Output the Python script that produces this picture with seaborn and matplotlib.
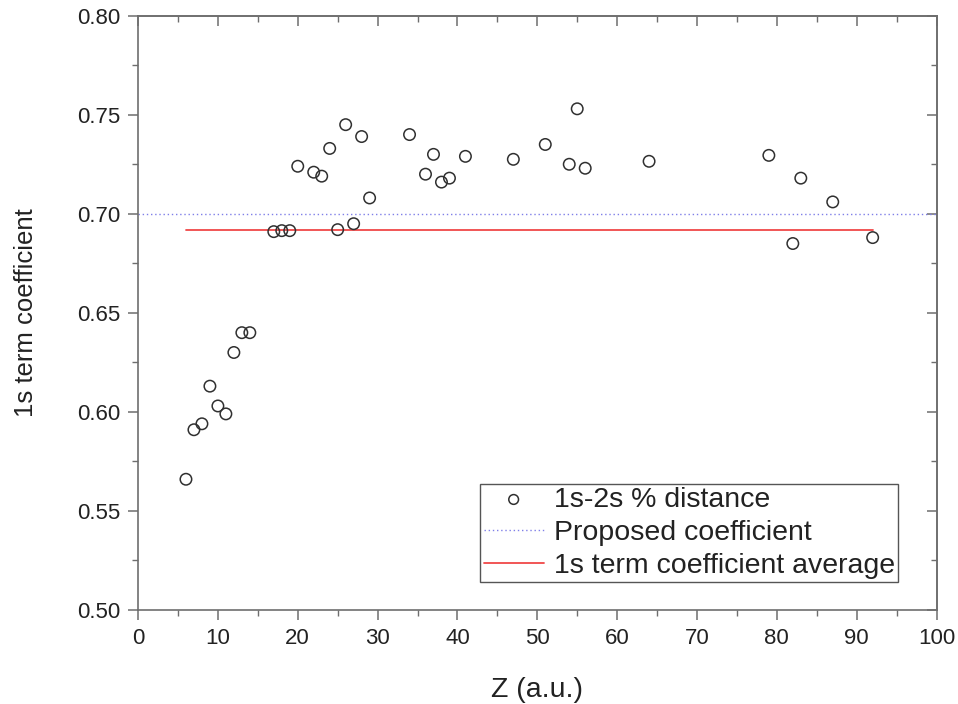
import matplotlib
matplotlib.use("Agg")
import matplotlib.pyplot as plt
from matplotlib.ticker import MultipleLocator
import seaborn as sns
import pandas as pd

# ---- data ----
z_values = [6, 7, 8, 9, 10, 11, 12, 13, 14, 17, 18, 19, 20, 22, 23, 24, 25, 26,
            27, 28, 29, 34, 36, 37, 38, 39, 41, 47, 51, 54, 55, 56, 64, 79, 82,
            83, 87, 92]
coef_values = [0.566, 0.591, 0.594, 0.613, 0.603, 0.599, 0.630, 0.640, 0.640,
               0.691, 0.6915, 0.6915, 0.724, 0.721, 0.719, 0.733, 0.692, 0.745,
               0.695, 0.739, 0.708, 0.740, 0.720, 0.730, 0.716, 0.718, 0.729,
               0.7275, 0.735, 0.725, 0.753, 0.723, 0.7265, 0.7295, 0.685,
               0.718, 0.706, 0.688]
proposed_x = [0, 100]
proposed_y = [0.70, 0.70]
average_x = [6, 92]
average_y = [0.692, 0.692]

x_ticks = [0, 10, 20, 30, 40, 50, 60, 70, 80, 90, 100]
y_ticks = [0.50, 0.55, 0.60, 0.65, 0.70, 0.75, 0.80]
x_label = "Z (a.u.)"
y_label = "1s term coefficient"
legend_labels = ["1s-2s % distance", "Proposed coefficient",
                 "1s term coefficient average"]

sns.set_theme(style="white")
plt.rcParams["font.family"] = ["Liberation Sans", "DejaVu Sans"]

fig = plt.figure(figsize=(9.58, 7.04), dpi=100)
ax = fig.add_axes([0.1441, 0.1335, 0.9776 - 0.1441, 0.9777 - 0.1335])

pts = pd.DataFrame({"Z": z_values, "c": coef_values})
prop = pd.DataFrame({"Z": proposed_x, "c": proposed_y})
avg = pd.DataFrame({"Z": average_x, "c": average_y})

sns.lineplot(data=prop, x="Z", y="c", ax=ax, color="#7f7fe8", linestyle=(0, (1, 2)),
             linewidth=1.0, label=legend_labels[1])
sns.lineplot(data=avg, x="Z", y="c", ax=ax, color="#f04848", linewidth=1.3,
             label=legend_labels[2])
sns.scatterplot(data=pts, x="Z", y="c", ax=ax, marker="o", s=68,
                facecolor="none", edgecolor="#303030", linewidth=1.1,
                label=legend_labels[0], zorder=5)

ax.set_xlim(0, 100)
ax.set_ylim(0.50, 0.80)
ax.set_xticks(x_ticks)
ax.set_yticks(y_ticks)
ax.set_xticklabels([str(t) for t in x_ticks])
ax.set_yticklabels([f"{t:.2f}" for t in y_ticks])
ax.xaxis.set_minor_locator(MultipleLocator(5))
ax.yaxis.set_minor_locator(MultipleLocator(0.025))

spine_col = "#6e6e6e"
for s in ax.spines.values():
    s.set_visible(True)
    s.set_color(spine_col)
    s.set_linewidth(1.2)

ax.tick_params(which="major", direction="out", length=7, width=1.1,
               color=spine_col, labelsize=16, labelcolor="#222222", pad=6)
ax.tick_params(which="minor", direction="out", length=4, width=1.0,
               color=spine_col)
ax.tick_params(top=False, right=False, which="both")
ax.tick_params(bottom=True, left=True, which="both")

# mirrored inward ticks on top and right
secx = ax.secondary_xaxis("top")
secx.set_xticks(x_ticks)
secx.xaxis.set_minor_locator(MultipleLocator(5))
secx.tick_params(which="major", direction="in", length=7, width=1.1,
                 color=spine_col, labeltop=False)
secx.tick_params(which="minor", direction="in", length=4, width=1.0,
                 color=spine_col)
secx.spines["top"].set_color(spine_col)
secx.spines["top"].set_linewidth(1.2)
secy = ax.secondary_yaxis("right")
secy.set_yticks(y_ticks)
secy.yaxis.set_minor_locator(MultipleLocator(0.025))
secy.tick_params(which="major", direction="in", length=7, width=1.1,
                 color=spine_col, labelright=False)
secy.tick_params(which="minor", direction="in", length=4, width=1.0,
                 color=spine_col)
secy.spines["right"].set_color(spine_col)
secy.spines["right"].set_linewidth(1.2)

ax.set_xlabel(x_label, fontsize=20.5, color="#222222", labelpad=20)
ax.set_ylabel(y_label, fontsize=18.5, color="#222222", labelpad=28)

handles, labels = ax.get_legend_handles_labels()
order = [labels.index(l) for l in legend_labels]
leg = ax.legend([handles[i] for i in order], [labels[i] for i in order],
                loc="lower right", bbox_to_anchor=(0.9518, 0.0471),
                borderaxespad=0, fontsize=20.5, frameon=True, fancybox=False,
                edgecolor="#555555", framealpha=1, handlelength=2.1,
                handletextpad=0.35, labelspacing=0.24, borderpad=0.12,
                markerscale=0.85)
leg.get_frame().set_linewidth(1.0)
for t in leg.get_texts():
    t.set_color("#222222")

fig.savefig("out.png", dpi=100)
